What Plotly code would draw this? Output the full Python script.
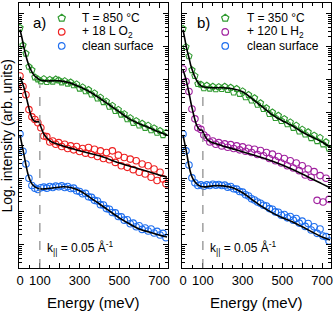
import plotly.graph_objects as go
from plotly.subplots import make_subplots

# ---------------- data (log10 intensity, arb. units) ----------------
energy = [0, 15, 30, 45, 60, 75, 90, 105, 120, 135, 150, 165, 180, 195, 210, 225, 240, 255, 270, 285,
          300, 315, 330, 345, 360, 375, 390, 405, 420, 435, 450, 465, 480, 495, 510, 525, 540, 555, 570, 585,
          600, 615, 630, 645, 660, 675, 690, 705, 720, 735]

a_green = [6.58, 6.05, 5.80, 5.40, 5.30, 5.08, 5.02, 4.96, 5.03, 4.94, 5.01, 4.95, 5.02, 4.99, 4.93, 4.97, 4.89, 4.93, 4.84, 4.87,
           4.74, 4.78, 4.66, 4.70, 4.56, 4.60, 4.44, 4.47, 4.33, 4.35, 4.19, 4.22, 4.06, 4.10, 3.95, 3.97, 3.81, 3.85, 3.70, 3.76,
           3.62, 3.68, 3.55, 3.62, 3.48, 3.54, 3.40, 3.46, 3.33, 3.40]
a_red = [5.12, 4.80, 4.55, 4.10, 3.88, 3.80, 3.70, 3.55, 3.30, 3.28, 3.12, 3.15, 3.05, 3.10, 2.98, 3.05, 2.92, 3.00, 2.88, 2.98,
         2.83, 2.92, 2.78, 2.95, 2.74, 2.90, 2.68, 2.85, 2.62, 2.80, 2.58, 2.85, 2.50, 2.72, 2.40, 2.65, 2.35, 2.60, 2.28, 2.55,
         2.20, 2.45, 2.15, 2.40, 2.05, 2.30, 1.95, 2.20, 2.00, 1.85]
a_blue = [3.36, 2.84, 2.45, 2.02, 1.80, 1.72, 1.68, 1.73, 1.75, 1.72, 1.77, 1.74, 1.78, 1.76, 1.79, 1.74, 1.77, 1.71, 1.72, 1.64,
          1.62, 1.55, 1.56, 1.46, 1.44, 1.35, 1.33, 1.22, 1.21, 1.10, 1.08, 0.98, 0.97, 0.86, 0.85, 0.75, 0.76, 0.64, 0.66, 0.55,
          0.58, 0.47, 0.51, 0.42, 0.48, 0.36, 0.41, 0.30, 0.35, 0.22]

b_green = [6.55, 6.00, 5.72, 5.30, 5.12, 4.88, 4.86, 4.75, 4.83, 4.74, 4.80, 4.72, 4.79, 4.73, 4.80, 4.70, 4.77, 4.62, 4.73, 4.58,
           4.66, 4.48, 4.55, 4.38, 4.45, 4.25, 4.30, 4.12, 4.15, 3.97, 4.02, 3.85, 3.92, 3.76, 3.82, 3.66, 3.72, 3.55, 3.62, 3.44,
           3.50, 3.35, 3.42, 3.24, 3.32, 3.15, 3.25, 3.05, 3.12, 2.92]
b_purple = [5.33, 4.95, 4.65, 4.12, 3.82, 3.55, 3.50, 3.33, 3.25, 3.12, 3.15, 3.05, 3.10, 3.00, 3.06, 2.96, 3.04, 2.92, 3.00, 2.88,
            2.97, 2.84, 2.93, 2.80, 2.90, 2.74, 2.86, 2.70, 2.80, 2.62, 2.75, 2.55, 2.68, 2.48, 2.62, 2.40, 2.55, 2.33, 2.48, 2.25,
            2.40, 2.12, 2.30, 2.05, 2.22, 1.35, 2.10, 1.30, 2.02, 1.38]
b_blue = [3.36, 2.85, 2.42, 2.03, 1.88, 1.80, 1.82, 1.78, 1.82, 1.80, 1.84, 1.81, 1.83, 1.80, 1.81, 1.75, 1.77, 1.70, 1.69, 1.62,
          1.60, 1.52, 1.48, 1.40, 1.36, 1.30, 1.26, 1.20, 1.18, 1.10, 1.08, 1.00, 0.99, 0.90, 0.92, 0.82, 0.86, 0.75, 0.80, 0.66,
          0.72, 0.56, 0.65, 0.45, 0.55, 0.35, 0.48, 0.27, 0.25, 0.12]

# fit curves
fa_green_e = [0, 10, 20, 30, 40, 50, 60, 70, 80, 100, 130, 160, 200, 250, 300, 350, 400, 450, 500, 550, 600, 650, 700, 740]
fa_green = [6.52, 6.27, 5.97, 5.73, 5.52, 5.36, 5.24, 5.15, 5.09, 5.00, 4.97, 4.97, 4.97, 4.91, 4.79, 4.64, 4.45, 4.24, 4.03, 3.82, 3.67, 3.55, 3.42, 3.33]
fa_red_e = [0, 10, 20, 30, 40, 50, 60, 70, 85, 95, 105, 120, 140, 160, 200, 250, 300, 400, 500, 600, 700, 740]
fa_red = [5.09, 4.94, 4.76, 4.52, 4.27, 4.03, 3.85, 3.76, 3.73, 3.73, 3.58, 3.36, 3.21, 3.12, 3.03, 2.94, 2.85, 2.70, 2.48, 2.30, 2.12, 2.06]
fa_blue_e = [0, 10, 20, 30, 40, 50, 60, 75, 100, 130, 170, 220, 260, 300, 350, 400, 450, 500, 550, 600, 650, 700, 740]
fa_blue = [3.33, 3.03, 2.73, 2.42, 2.15, 1.97, 1.85, 1.76, 1.70, 1.70, 1.73, 1.76, 1.73, 1.64, 1.45, 1.24, 1.03, 0.82, 0.64, 0.48, 0.39, 0.30, 0.24]

fb_green_e = [0, 10, 20, 30, 40, 50, 60, 70, 85, 100, 150, 200, 250, 300, 350, 400, 450, 500, 550, 600, 650, 700, 740]
fb_green = [6.52, 6.21, 5.91, 5.67, 5.42, 5.24, 5.09, 4.97, 4.85, 4.79, 4.76, 4.76, 4.73, 4.64, 4.42, 4.18, 3.94, 3.76, 3.61, 3.42, 3.27, 3.12, 2.97]
fb_purple_e = [0, 10, 20, 30, 40, 50, 60, 70, 85, 95, 105, 120, 140, 170, 200, 250, 300, 400, 500, 600, 700, 740]
fb_purple = [5.30, 5.12, 4.88, 4.61, 4.30, 4.03, 3.79, 3.61, 3.48, 3.48, 3.36, 3.21, 3.12, 3.06, 3.00, 2.91, 2.82, 2.64, 2.42, 2.15, 1.85, 1.73]
fb_blue_e = [0, 10, 20, 30, 40, 50, 60, 75, 100, 150, 200, 250, 300, 350, 400, 450, 500, 550, 600, 650, 700, 740]
fb_blue = [3.33, 3.03, 2.73, 2.39, 2.15, 2.00, 1.91, 1.82, 1.76, 1.79, 1.79, 1.73, 1.58, 1.36, 1.15, 0.97, 0.82, 0.70, 0.55, 0.39, 0.24, 0.15]

x_tickvals = [0, 100, 200, 300, 400, 500, 600, 700]
x_ticktext = ["0", "100", "", "300", "", "500", "", "700"]

legend_a = ["T = 850 °C", "+ 18 L O<sub>2</sub>", "clean surface"]
legend_b = ["T = 350 °C", "+ 120 L H<sub>2</sub>", "clean surface"]

GREEN = "#2f9a2f"
RED = "#ee2020"
BLUE = "#1f6fef"
PURPLE = "#a0209f"
FONT = "Liberation Sans"

fig = make_subplots(rows=1, cols=2, horizontal_spacing=0.045)


def lin2log(vals):
    return [10 ** v for v in vals]


panels = [
    (1, [(a_green, GREEN, "pentagon-open", fa_green_e, fa_green),
         (a_red, RED, "circle-open", fa_red_e, fa_red),
         (a_blue, BLUE, "circle-open", fa_blue_e, fa_blue)]),
    (2, [(b_green, GREEN, "pentagon-open", fb_green_e, fb_green),
         (b_purple, PURPLE, "circle-open", fb_purple_e, fb_purple),
         (b_blue, BLUE, "circle-open", fb_blue_e, fb_blue)]),
]
for col, series in panels:
    for vals, color, sym, fe, fv in series:
        fig.add_trace(go.Scatter(x=energy, y=lin2log(vals), mode="markers",
                                 marker=dict(symbol=sym, size=6.5, color=color, line=dict(width=1.1, color=color)),
                                 showlegend=False), row=1, col=col)
    for vals, color, sym, fe, fv in series:
        fig.add_trace(go.Scatter(x=fe, y=lin2log(fv), mode="lines", line=dict(color="black", width=1.6, shape="spline"),
                                 showlegend=False), row=1, col=col)

axis_common = dict(showline=True, linecolor="black", linewidth=1.3, mirror="ticks", ticks="inside",
                   tickcolor="black", tickwidth=1, showgrid=False, zeroline=False)

for col in (1, 2):
    fig.update_xaxes(range=[-5, 745], tickvals=x_tickvals, ticktext=x_ticktext, ticklen=5,
                     tickfont=dict(size=13, family=FONT, color="black"),
                     minor=dict(ticks="inside", dtick=50, tick0=0, ticklen=3, tickcolor="black", showgrid=False),
                     row=1, col=col, **axis_common)
    fig.update_yaxes(type="log", range=[-0.70, 7.33], dtick=1, ticklen=5, showticklabels=False,
                     minor=dict(ticks="inside", dtick="D1", ticklen=3, tickcolor="black", showgrid=False),
                     row=1, col=col, **axis_common)

fig.update_layout(
    width=335, height=311,
    margin=dict(l=19, r=2, t=3, b=43),
    plot_bgcolor="white", paper_bgcolor="white",
    font=dict(family=FONT, size=12, color="black"),
)

# dashed vertical line at 100 meV
for xr, yr, top in (("x", "y domain", 0.69), ("x2", "y2 domain", 0.67)):
    fig.add_shape(type="line", xref=xr, yref=yr, x0=100, x1=100, y0=0, y1=top,
                  line=dict(color="#888888", width=1.2, dash="dash"))

annotations = []
# panel labels
for txt, xp in (("a)", 0.067), ("b)", 0.592)):
    annotations.append(dict(text=txt, xref="paper", yref="paper", x=xp, y=0.925, showarrow=False,
                            font=dict(size=15, family=FONT), xanchor="center", yanchor="middle"))
# k annotation
for xr, yr in (("x", "y domain"), ("x2", "y2 domain")):
    annotations.append(dict(text="k<sub>||</sub> = 0.05 Å<sup>-1</sup>", xref=xr, yref=yr, x=125, y=0.075,
                            showarrow=False, xanchor="left", yanchor="middle", font=dict(size=12, family=FONT)))
# x titles
for xp in (0.239, 0.761):
    annotations.append(dict(text="Energy (meV)", xref="paper", yref="paper", x=xp, y=-0.13, showarrow=False,
                            xanchor="center", yanchor="middle", font=dict(size=15, family=FONT)))
# y title
annotations.append(dict(text="Log. intensity (arb. units)", xref="paper", yref="paper", x=-0.037, y=0.498,
                        textangle=-90, showarrow=False, xanchor="center", yanchor="middle",
                        font=dict(size=14, family=FONT)))

# legends (drawn manually for compact spacing)
rows_y = [0.943, 0.891, 0.838]
for mx, tx, labels, colors in ((0.137, 0.197, legend_a, [GREEN, RED, BLUE]),
                               (0.661, 0.725, legend_b, [GREEN, PURPLE, BLUE])):
    for i, (lab, c) in enumerate(zip(labels, colors)):
        annotations.append(dict(text=lab, xref="paper", yref="paper", x=tx, y=rows_y[i], showarrow=False,
                                xanchor="left", yanchor="middle", font=dict(size=12, family=FONT)))
        if i == 0:
            fig.add_shape(type="path", xref="paper", yref="paper", xsizemode="pixel", ysizemode="pixel",
                          xanchor=mx, yanchor=rows_y[i],
                          path="M 0 3.8 L 3.6 1.2 L 2.2 -3.1 L -2.2 -3.1 L -3.6 1.2 Z",
                          line=dict(color=c, width=1.2))
        else:
            fig.add_shape(type="circle", xref="paper", yref="paper", xsizemode="pixel", ysizemode="pixel",
                          xanchor=mx, yanchor=rows_y[i], x0=-3.3, x1=3.3, y0=-3.3, y1=3.3,
                          line=dict(color=c, width=1.2))

fig.update_layout(annotations=annotations)
fig.write_html("out.html", config={"displayModeBar": False},
               post_script="document.body.style.margin='0';")
